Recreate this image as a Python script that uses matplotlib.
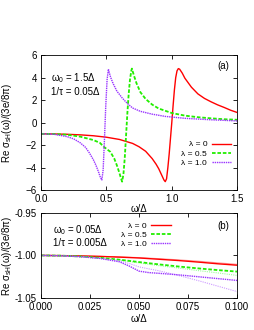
import numpy as np
import matplotlib
matplotlib.use("Agg")
import matplotlib.pyplot as plt

plt.rcParams['font.family'] = ['Liberation Sans', 'DejaVu Sans']
plt.rcParams['mathtext.default'] = 'regular'
plt.rcParams['font.size'] = 7

# panel (a): omega_0 = 1.5 Delta, 1/tau = 0.05 Delta
w_red = [0, 0.1, 0.2, 0.3, 0.4, 0.5, 0.6, 0.7, 0.75, 0.8, 0.85, 0.88, 0.9, 0.92, 0.94, 0.95,
         0.96, 0.97, 0.98, 0.99, 1.0, 1.01, 1.02, 1.03, 1.04, 1.05, 1.06, 1.08, 1.1, 1.15,
         1.2, 1.25, 1.3, 1.35, 1.4, 1.45, 1.5]
s_red = [-1.0, -1.01, -1.04, -1.09, -1.17, -1.3, -1.5, -1.85, -2.15, -2.55, -3.2, -3.7, -4.1,
         -4.6, -5.1, -5.25, -5.0, -4.0, -2.8, -1.4, 0.0, 1.5, 2.9, 4.0, 4.6, 4.8, 4.75, 4.4,
         3.95, 3.15, 2.55, 2.15, 1.85, 1.58, 1.35, 1.1, 0.9]

w_green = [0, 0.1, 0.2, 0.3, 0.4, 0.45, 0.48, 0.53, 0.56, 0.58, 0.6, 0.61, 0.62, 0.63, 0.64,
           0.65, 0.66, 0.67, 0.68, 0.69, 0.695, 0.71, 0.73, 0.76, 0.8, 0.85, 0.9, 1.0, 1.1,
           1.2, 1.3, 1.4, 1.5]
s_green = [-1.0, -1.02, -1.08, -1.25, -1.55, -1.8, -2.15, -2.6, -3.2, -3.8, -4.5, -4.9, -5.25,
           -4.6, -3.2, -1.2, 0.8, 2.5, 3.8, 4.6, 4.8, 4.2, 3.5, 2.7, 2.1, 1.6, 1.25, 0.85,
           0.62, 0.48, 0.38, 0.3, 0.25]

w_purple = [0, 0.1, 0.2, 0.25, 0.3, 0.34, 0.37, 0.4, 0.42, 0.44, 0.455, 0.465, 0.475, 0.485,
            0.495, 0.505, 0.515, 0.53, 0.55, 0.58, 0.62, 0.66, 0.7, 0.76, 0.85, 0.95, 1.1,
            1.3, 1.5]
s_purple = [-1.0, -1.04, -1.25, -1.45, -1.8, -2.2, -2.7, -3.3, -3.8, -4.4, -4.9, -5.1, -4.2,
            -1.5, 1.5, 3.8, 4.75, 4.1, 3.5, 2.8, 2.2, 1.7, 1.3, 1.0, 0.75, 0.55, 0.38,
            0.25, 0.15]

# panel (b): omega_0 = 0.05 Delta, 1/tau = 0.005 Delta
wb = [0, 0.01, 0.02, 0.03, 0.04, 0.05, 0.06, 0.07, 0.08, 0.09, 0.1]
b_red = [-1.0, -1.0002, -1.0006, -1.0012, -1.002, -1.003, -1.0045, -1.006, -1.0078, -1.0098, -1.0115]
b_red_lt = [-1.0, -1.0002, -1.0005, -1.001, -1.0017, -1.0026, -1.0038, -1.0052, -1.0068, -1.0087, -1.0105]
b_green = [-1.0, -1.0003, -1.0012, -1.0028, -1.005, -1.0078, -1.0105, -1.013, -1.0152, -1.0172, -1.019]
b_green_lt = [-1.0, -1.0003, -1.0013, -1.003, -1.0055, -1.0088, -1.012, -1.0148, -1.0178, -1.0205, -1.0235]
wb_p = [0, 0.01, 0.02, 0.03, 0.04, 0.045, 0.05, 0.055, 0.06, 0.07, 0.08, 0.09, 0.1]
b_purple = [-1.0, -1.0004, -1.0015, -1.0035, -1.0075, -1.0125, -1.0185, -1.0202, -1.021,
            -1.0228, -1.025, -1.0272, -1.0294]
b_purple_lt = [-1.0, -1.0004, -1.0015, -1.0035, -1.0065, -1.0095, -1.0135, -1.0158, -1.018,
               -1.0235, -1.0295, -1.036, -1.0425]

RED = '#ff0000'
GREEN = '#22ee00'
PURPLE = '#9933ff'
ylab = 'Re σ$_{sH}$(ω)/(3e/8π)'

fig = plt.figure(figsize=(2.55, 3.3), dpi=100)
ax1 = fig.add_axes([0.161, 0.424, 0.769, 0.409])
ax2 = fig.add_axes([0.161, 0.097, 0.769, 0.258])

ax1.plot(w_red, s_red, color=RED, lw=1.0, label='λ = 0')
ax1.plot(w_green, s_green, color=GREEN, lw=1.3, ls=(0, (2, 1)), label='λ = 0.5')
ax1.plot(w_purple, s_purple, color=PURPLE, lw=1.0, ls=(0, (1, 0.6)), label='λ = 1.0')
ax1.set_xlim(0, 1.5)
ax1.set_ylim(-6, 6)
ax1.set_xticks([0, 0.5, 1.0, 1.5])
ax1.set_xticklabels(['0.0', '0.5', '1.0', '1.5'])
ax1.set_yticks([-6, -4, -2, 0, 2, 4, 6])
ax1.set_xlabel('ω/Δ', labelpad=0)
ax1.set_ylabel(ylab)
ax1.yaxis.set_label_coords(-0.14, 0.5)
ax1.text(0.05, 0.83, 'ω$_0$ = 1.5Δ', transform=ax1.transAxes, va='center')
ax1.text(0.05, 0.73, '1/τ = 0.05Δ', transform=ax1.transAxes, va='center')
ax1.text(0.96, 0.92, '(a)', transform=ax1.transAxes, ha='right', va='center')
ax1.legend(loc='center right', bbox_to_anchor=(1.0, 0.27), frameon=False, markerfirst=False,
           fontsize=6, handlelength=2.3, handletextpad=0.6, labelspacing=0.15, borderpad=0.2)

ax2.plot(wb, b_red_lt, color='#ff9999', lw=0.8)
ax2.plot(wb, b_red, color=RED, lw=1.0, label='λ = 0')
ax2.plot(wb, b_green_lt, color='#99ff99', lw=0.8, ls=(0, (1, 1)))
ax2.plot(wb, b_green, color=GREEN, lw=1.3, ls=(0, (2, 1)), label='λ = 0.5')
ax2.plot(wb_p, b_purple_lt, color='#cc99ff', lw=0.8, ls=(0, (1, 1)))
ax2.plot(wb_p, b_purple, color=PURPLE, lw=1.0, ls=(0, (1, 0.6)), label='λ = 1.0')
ax2.set_xlim(0, 0.1)
ax2.set_ylim(-1.05, -0.95)
ax2.set_xticks([0, 0.025, 0.05, 0.075, 0.1])
ax2.set_xticklabels(['0.000', '0.025', '0.050', '0.075', '0.100'])
ax2.set_yticks([-1.05, -1.0, -0.95])
ax2.set_yticklabels(['-1.05', '-1.00', '-0.95'])
ax2.set_xlabel('ω/Δ', labelpad=1)
ax2.set_ylabel(ylab)
ax2.yaxis.set_label_coords(-0.14, 0.5)
ax2.text(0.06, 0.80, 'ω$_0$ = 0.05Δ', transform=ax2.transAxes, va='center')
ax2.text(0.06, 0.65, '1/τ = 0.005Δ', transform=ax2.transAxes, va='center')
ax2.text(0.96, 0.84, '(b)', transform=ax2.transAxes, ha='right', va='center')
ax2.legend(loc='center right', bbox_to_anchor=(0.69, 0.74), frameon=False, markerfirst=False,
           fontsize=6, handlelength=2.3, handletextpad=0.6, labelspacing=0.15, borderpad=0.2)

for ax in (ax1, ax2):
    ax.tick_params(direction='in', top=True, right=True, length=3, width=0.6)
    ax.tick_params(axis='x', pad=3)
    ax.tick_params(axis='y', pad=3)
    for sp in ax.spines.values():
        sp.set_linewidth(0.6)

fig.savefig('out.png', dpi=100)
